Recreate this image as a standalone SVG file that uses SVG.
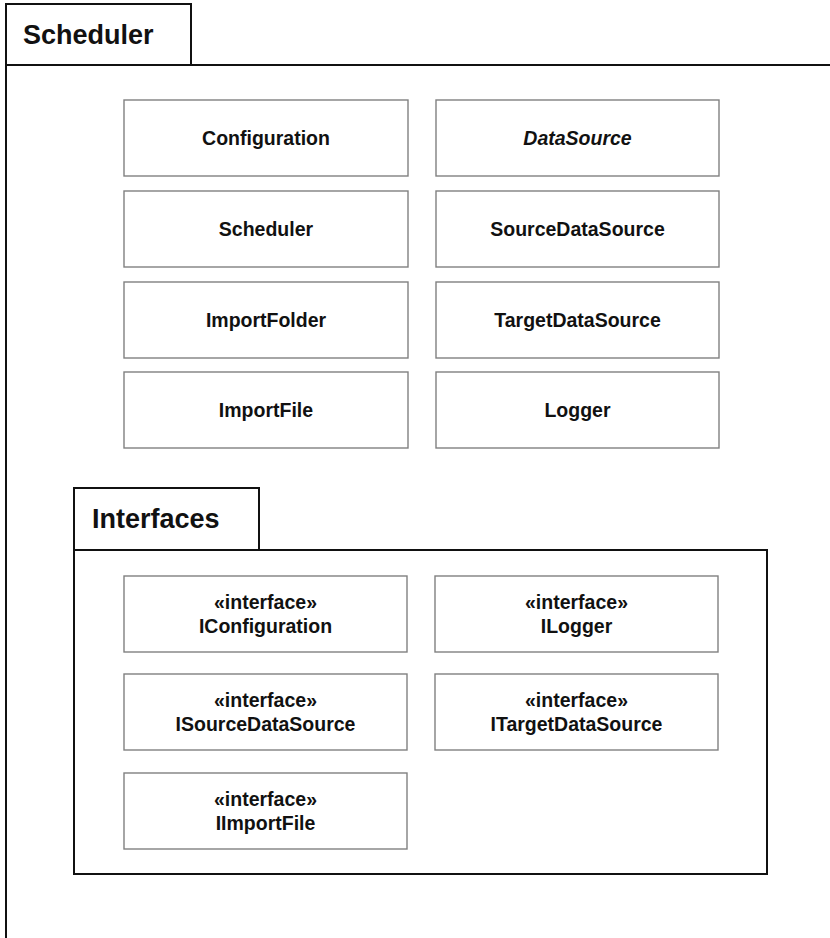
<svg xmlns="http://www.w3.org/2000/svg" width="830" height="938" viewBox="0 0 830 938">
  <style>
    .frame { fill: none; stroke: #111; stroke-width: 2; }
    .box { fill: #fff; stroke: #808080; stroke-width: 1.4; }
    .title { font-family: "Liberation Sans", Arial, sans-serif; font-weight: bold; font-size: 27px; fill: #111; }
    .label { font-family: "Liberation Sans", Arial, sans-serif; font-weight: bold; font-size: 19.5px; fill: #111; text-anchor: middle; }
    .abstract { font-style: italic; }
  </style>
  <rect width="830" height="938" fill="#fff"/>

  <!-- Scheduler package -->
  <g id="pkg-scheduler">
    <path class="frame" d="M6 938 V4 H191 V65 M6 65 H830"/>
    <text class="title" x="23" y="44">Scheduler</text>
  </g>

  <!-- classes, left column -->
  <g id="configuration">
    <rect class="box" x="124" y="100" width="284" height="76"/>
    <text class="label" x="266" y="145">Configuration</text>
  </g>
  <g id="scheduler">
    <rect class="box" x="124" y="191" width="284" height="76"/>
    <text class="label" x="266" y="236">Scheduler</text>
  </g>
  <g id="importfolder">
    <rect class="box" x="124" y="282" width="284" height="76"/>
    <text class="label" x="266" y="327">ImportFolder</text>
  </g>
  <g id="importfile">
    <rect class="box" x="124" y="372" width="284" height="76"/>
    <text class="label" x="266" y="417">ImportFile</text>
  </g>

  <!-- classes, right column -->
  <g id="datasource">
    <rect class="box" x="436" y="100" width="283" height="76"/>
    <text class="label abstract" x="577.5" y="145">DataSource</text>
  </g>
  <g id="sourcedatasource">
    <rect class="box" x="436" y="191" width="283" height="76"/>
    <text class="label" x="577.5" y="236">SourceDataSource</text>
  </g>
  <g id="targetdatasource">
    <rect class="box" x="436" y="282" width="283" height="76"/>
    <text class="label" x="577.5" y="327">TargetDataSource</text>
  </g>
  <g id="logger">
    <rect class="box" x="436" y="372" width="283" height="76"/>
    <text class="label" x="577.5" y="417">Logger</text>
  </g>

  <!-- Interfaces package -->
  <g id="pkg-interfaces">
    <path class="frame" d="M74 550 V488 H259 V550"/>
    <rect class="frame" x="74" y="550" width="693" height="324"/>
    <text class="title" x="92" y="528">Interfaces</text>
  </g>

  <g id="iconfiguration">
    <rect class="box" x="124" y="576" width="283" height="76"/>
    <text class="label" x="265.5" y="609">«interface»</text>
    <text class="label" x="265.5" y="633">IConfiguration</text>
  </g>
  <g id="ilogger">
    <rect class="box" x="435" y="576" width="283" height="76"/>
    <text class="label" x="576.5" y="609">«interface»</text>
    <text class="label" x="576.5" y="633">ILogger</text>
  </g>
  <g id="isourcedatasource">
    <rect class="box" x="124" y="674" width="283" height="76"/>
    <text class="label" x="265.5" y="707">«interface»</text>
    <text class="label" x="265.5" y="731">ISourceDataSource</text>
  </g>
  <g id="itargetdatasource">
    <rect class="box" x="435" y="674" width="283" height="76"/>
    <text class="label" x="576.5" y="707">«interface»</text>
    <text class="label" x="576.5" y="731">ITargetDataSource</text>
  </g>
  <g id="iimportfile">
    <rect class="box" x="124" y="773" width="283" height="76"/>
    <text class="label" x="265.5" y="806">«interface»</text>
    <text class="label" x="265.5" y="830">IImportFile</text>
  </g>

  <!-- no connectors in this diagram -->
  <g id="connectors"/>
</svg>
